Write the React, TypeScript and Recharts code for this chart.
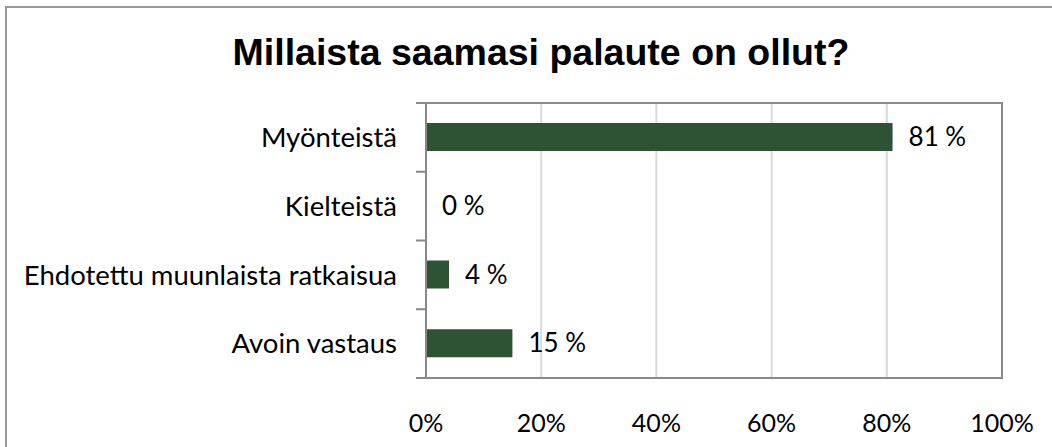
import { Bar, BarChart, CartesianGrid, LabelList, ReferenceArea, XAxis, YAxis } from "recharts";

const categories = ["Myönteistä", "Kielteistä", "Ehdotettu muunlaista ratkaisua", "Avoin vastaus"];
const shares = [81, 0, 4, 15];
const xTicks = [0, 20, 40, 60, 80, 100];

const data = categories.map((name, i) => ({ name, value: shares[i] }));

const font = "Lato, 'Open Sans', sans-serif";
const axisGray = "#898989";
const plotLeft = 426;
const plotTop = 103;
const plotBottom = 378;
const band = (plotBottom - plotTop) / categories.length;

function CategoryTick(props: any) {
  const { y, payload, index } = props;
  const last = index === categories.length - 1;
  return (
    <g>
      <line x1={plotLeft - 10} x2={plotLeft} y1={y - band / 2} y2={y - band / 2} stroke={axisGray} strokeWidth={2} />
      {last && (
        <line x1={plotLeft - 10} x2={plotLeft} y1={y + band / 2} y2={y + band / 2} stroke={axisGray} strokeWidth={2} />
      )}
      <text x={plotLeft - 29} y={y} dy="0.35em" textAnchor="end" fontFamily={font} fontSize={27.5} fill="#000">
        {payload.value}
      </text>
    </g>
  );
}

function PercentTick(props: any) {
  const { x, y, payload } = props;
  return (
    <text x={x} y={y + 37} dy="0.35em" textAnchor="middle" fontFamily={font} fontSize={25} fill="#000">
      {payload.value}%
    </text>
  );
}

function ValueLabel(props: any) {
  const { x, y, width, height, value } = props;
  return (
    <text x={x + width + 16} y={y + height / 2} dy="0.35em" textAnchor="start" fontFamily={font} fontSize={26} fill="#000">
      {value} %
    </text>
  );
}

export default function App() {
  return (
    <div style={{ position: "fixed", left: 0, top: 0, width: 1052, height: 447, overflow: "hidden", background: "#fff" }}>
      <div
        style={{
          position: "absolute",
          left: 5,
          top: 6,
          width: 1200,
          height: 600,
          border: "2px solid #999",
        }}
      />
      <div
        style={{
          position: "absolute",
          left: 541,
          top: 52,
          transform: "translate(-50%, -50%)",
          whiteSpace: "nowrap",
          fontFamily: "'Liberation Sans', Arial, sans-serif",
          fontWeight: "bold",
          fontSize: 37.5,
          color: "#000",
        }}
      >
        Millaista saamasi palaute on ollut?
      </div>
      <div style={{ position: "absolute", left: 0, top: 0 }}>
        <BarChart
          width={1052}
          height={447}
          data={data}
          layout="vertical"
          margin={{ top: plotTop, right: 50, bottom: 0, left: 0 }}
        >
          <CartesianGrid horizontal={false} stroke="#D9D9D9" strokeWidth={2} />
          <XAxis
            type="number"
            domain={[0, 100]}
            ticks={xTicks}
            axisLine={false}
            tickLine={false}
            height={447 - plotBottom}
            tick={<PercentTick />}
            interval={0}
          />
          <YAxis
            type="category"
            dataKey="name"
            width={plotLeft}
            axisLine={{ stroke: axisGray, strokeWidth: 2 }}
            tickLine={false}
            tick={<CategoryTick />}
            interval={0}
          />
          <ReferenceArea x1={0} x2={100} stroke={axisGray} strokeWidth={2} fill="none" ifOverflow="visible" />
          <Bar dataKey="value" fill="#2D5234" barSize={28} minPointSize={0.01} isAnimationActive={false}>
            <LabelList dataKey="value" content={<ValueLabel />} />
          </Bar>
        </BarChart>
      </div>
    </div>
  );
}
